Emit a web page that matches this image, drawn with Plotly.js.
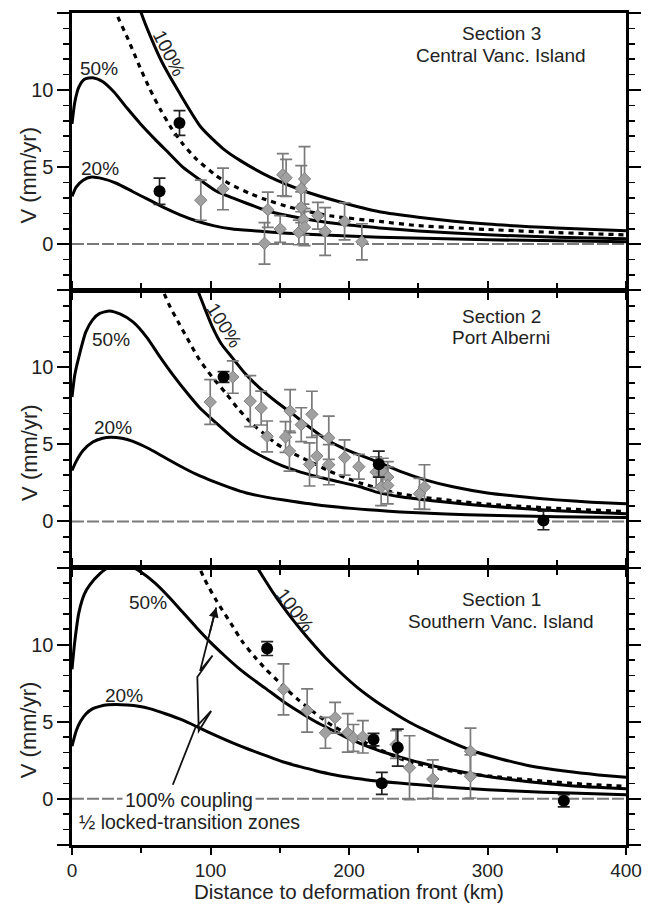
<!DOCTYPE html>
<html>
<head>
<meta charset="utf-8">
<script src="https://cdn.plot.ly/plotly-3.0.1.min.js"></script>
<style>html,body{margin:0;padding:0;background:#fff;}#chart{width:654px;height:904px;}</style>
</head>
<body>
<div id="chart"></div>
<script>
// ---------- Section 3 : Central Vanc. Island (top panel) ----------
const s3_c100_km = [46, 50, 57, 65, 77, 93, 109, 121, 143, 169, 193, 222, 250, 300, 350, 400];
const s3_c100_v  = [16.2, 15, 13.4, 11.8, 9.9, 7.6, 6.2, 5.45, 4.35, 3.4, 2.75, 2.1, 1.75, 1.3, 1.05, 0.87];
const s3_dash_km = [30, 32, 40, 48, 56, 64, 72, 80, 90, 104, 114, 128, 138, 157, 186, 222, 250, 300, 350, 400];
const s3_dash_v  = [16, 15, 13.4, 11.7, 10.1, 8.7, 7.5, 6.5, 5.5, 4.45, 3.9, 3.3, 2.95, 2.4, 1.84, 1.47, 1.2, 0.95, 0.75, 0.6];
const s3_c50_km  = [0, 2, 5, 9, 15, 22, 30, 40, 50, 60, 70, 80, 92, 104, 116, 126, 140, 150, 174, 198, 222, 250, 300, 350, 400];
const s3_c50_v   = [7.8, 9.2, 10.2, 10.7, 10.8, 10.55, 9.9, 8.8, 7.75, 6.8, 5.9, 5.0, 4.2, 3.45, 3.0, 2.65, 2.2, 1.95, 1.55, 1.25, 1.05, 0.85, 0.6, 0.45, 0.35];
const s3_c20_km  = [0, 3, 8, 14, 22, 32, 44, 56, 68, 78, 90, 102, 116, 138, 152, 174, 222, 300, 400];
const s3_c20_v   = [3.1, 3.7, 4.15, 4.35, 4.25, 3.95, 3.4, 2.85, 2.3, 1.9, 1.5, 1.2, 0.98, 0.82, 0.72, 0.62, 0.45, 0.28, 0.15];
const s3_gps_km  = [93, 109, 139, 141.4, 150.3, 152.2, 154.6, 163.8, 165.5, 165.5, 167.1, 167.9, 167.9, 177.5, 182.8, 196.8, 209.3];
const s3_gps_v   = [2.85, 3.58, 0.05, 2.23, 0.98, 4.5, 4.3, 0.76, 3.6, 2.39, 1.6, 1.1, 4.23, 1.84, 0.82, 1.47, 0.15];
const s3_gps_err = [1.3, 1.35, 1.35, 1.15, 0.87, 1.37, 1.2, 0.8, 1.5, 1.0, 1.0, 1.2, 2.1, 0.87, 1.55, 1.2, 1.17];
const s3_dot_km  = [63.2, 77.6];
const s3_dot_v   = [3.43, 7.86];
const s3_dot_err = [0.85, 0.8];

// ---------- Section 2 : Port Alberni (middle panel) ----------
const s2_c100_km = [87, 90.8, 96, 101, 108, 116, 125, 135, 147, 159, 171, 184, 197, 208, 221, 237, 255, 275, 300, 325, 350, 375, 400];
const s2_c100_v  = [16, 15, 13.8, 12.7, 11.5, 10.6, 9.6, 8.7, 7.8, 7.0, 6.15, 5.3, 4.7, 4.3, 3.85, 3.25, 2.7, 2.25, 1.85, 1.6, 1.4, 1.25, 1.15];
const s2_dash_km = [62, 65.6, 71, 77.6, 85, 92, 101, 111.3, 120, 130.5, 140, 147.4, 157, 164.3, 175, 185, 197, 208, 227, 237, 255, 275, 300, 330, 360, 400];
const s2_dash_v  = [16, 15, 13.9, 12.8, 11.6, 10.5, 9.4, 8.3, 7.3, 6.3, 5.6, 5.05, 4.55, 4.2, 3.75, 3.3, 2.85, 2.5, 2.0, 1.8, 1.55, 1.35, 1.12, 0.95, 0.8, 0.65];
const s2_c50_km  = [0, 2, 5, 10, 15, 20, 27, 35, 44, 54, 63, 73, 83, 92, 104, 116, 128, 140, 152, 165, 184, 208, 220, 237, 260, 300, 350, 400];
const s2_c50_v   = [8.07, 9.5, 10.7, 12.3, 13.1, 13.5, 13.66, 13.45, 12.95, 11.95, 10.75, 9.5, 8.35, 7.4, 6.4, 5.45, 4.7, 4.1, 3.6, 3.2, 2.75, 2.25, 1.9, 1.6, 1.35, 1.0, 0.7, 0.5];
const s2_c20_km  = [0, 3, 8, 15, 22, 28, 36, 44, 55, 65, 78, 90, 102, 114, 126, 140, 160, 184, 208, 220, 237, 270, 300, 350, 400];
const s2_c20_v   = [3.31, 3.9, 4.6, 5.15, 5.4, 5.47, 5.4, 5.2, 4.75, 4.25, 3.6, 3.05, 2.6, 2.2, 1.85, 1.58, 1.3, 1.0, 0.8, 0.72, 0.62, 0.48, 0.4, 0.3, 0.25];
const s2_gps_km  = [99.8, 116.1, 128.7, 136.6, 140.9, 154.2, 157.5, 157, 165.5, 173.2, 171.5, 176.8, 185.4, 185.4, 196.8, 207.1, 219.6, 224.4, 228, 223.2, 228, 254.5, 250.9];
const s2_gps_v   = [7.75, 9.37, 7.81, 7.36, 5.52, 5.48, 7.16, 4.57, 6.28, 6.95, 3.7, 4.24, 5.43, 3.68, 4.15, 3.55, 3.2, 3.2, 2.88, 2.23, 2.34, 2.23, 1.8];
const s2_gps_err = [1.45, 1.05, 1.65, 1.1, 1.0, 1.0, 1.4, 1.3, 1.1, 1.5, 1.4, 1.35, 1.4, 1.3, 1.15, 0.8, 1.0, 0.9, 1.0, 1.2, 1.2, 1.45, 1.0];
const s2_dot_km  = [109.4, 221.5, 340.4];
const s2_dot_v   = [9.38, 3.72, 0.06];
const s2_dot_err = [0.35, 0.85, 0.6];

// ---------- Section 1 : Southern Vanc. Island (bottom panel) ----------
const s1_c100_km = [131, 134, 140, 148, 157, 165, 172, 183, 195, 207, 219, 231, 243, 255, 268, 288, 309, 330, 357, 380, 400];
const s1_c100_v  = [16, 15, 14.1, 13.0, 11.9, 11.0, 10.25, 9.15, 8.1, 7.15, 6.35, 5.65, 5.0, 4.45, 3.9, 3.15, 2.6, 2.15, 1.78, 1.55, 1.39];
const s1_dash_km = [88, 92, 96, 104, 116, 123, 132, 140, 148, 155, 163, 172, 180, 188, 197, 205, 215, 227, 237, 255, 280, 309, 340, 370, 400];
const s1_dash_v  = [16, 15, 14.2, 12.9, 11.2, 10.2, 9.2, 8.4, 7.7, 7.1, 6.45, 5.8, 5.25, 4.75, 4.3, 3.95, 3.5, 3.0, 2.6, 2.15, 1.7, 1.4, 1.15, 0.95, 0.8];
const s1_c50_km  = [0, 2, 5, 9, 13, 20, 27, 35, 42, 50, 60, 70, 80, 90, 100, 110, 120, 130, 140, 152, 164, 176, 188, 200, 212, 224, 237, 251, 270, 300, 330, 360, 400];
const s1_c50_v   = [8.4, 10.2, 12.1, 13.3, 13.9, 14.6, 15.05, 15.2, 15.1, 14.7, 14.0, 13.1, 12.1, 11.1, 10.15, 9.3, 8.5, 7.8, 7.15, 6.35, 5.65, 5.0, 4.45, 3.9, 3.45, 3.05, 2.7, 2.35, 1.95, 1.45, 1.1, 0.85, 0.65];
const s1_c20_km  = [0, 3, 6, 10, 15, 20, 26, 32, 40, 48, 56, 68, 80, 92, 104, 116, 128, 140, 152, 164, 176, 188, 200, 212, 236, 251, 280, 320, 360, 400];
const s1_c20_v   = [3.41, 4.4, 5.0, 5.5, 5.85, 6.0, 6.1, 6.12, 6.08, 6.0, 5.85, 5.5, 5.1, 4.6, 4.1, 3.63, 3.2, 2.8, 2.4, 2.1, 1.82, 1.58, 1.4, 1.24, 1.02, 0.91, 0.7, 0.5, 0.37, 0.26];
const s1_gps_km  = [152.7, 169.8, 183, 190, 199.1, 203.2, 210, 234, 243.7, 260.5, 287.7, 287.7];
const s1_gps_v   = [7.1, 5.73, 4.28, 5.26, 4.28, 3.95, 4.02, 3.52, 2.02, 1.28, 3.08, 1.45];
const s1_gps_err = [1.65, 1.4, 1.0, 1.0, 1.25, 0.87, 1.05, 0.9, 2.07, 1.25, 1.5, 1.4];
const s1_dot_km  = [140.9, 217.7, 235.2, 223.7, 355.1];
const s1_dot_v   = [9.75, 3.84, 3.32, 1.0, -0.13];
const s1_dot_err = [0.45, 0.4, 1.2, 0.72, 0.4];

// axis ticks
const xTickVals = [0, 100, 200, 300, 400];
const xTickText = ['0', '100', '200', '300', '400'];
const yTickVals = [-3, 0, 5, 10, 15];
const yTickText = ['', '0', '5', '10', ''];

// arrow (annotation in bottom panel)
const arrowKm = [72.8, 89.0, 100.5, 91.5, 90.5, 101.5, 92.5, 104.1];
const arrowV  = [0.91, 4.6, 5.7, 4.4, 7.9, 9.3, 8.3, 12.42];

const FONT = 'Liberation Sans, Arial, Helvetica, sans-serif';
const TXT = '#222';

function curve(xs, ys, ax, dashed) {
  return {type: 'scatter', mode: 'lines', x: xs, y: ys, xaxis: 'x' + ax, yaxis: 'y' + ax,
    line: {color: '#000', width: dashed ? 3.2 : 3, dash: dashed ? '5px,5px' : 'solid', shape: 'spline', smoothing: 0.6},
    hoverinfo: 'skip', showlegend: false};
}
function diamonds(xs, ys, es, ax) {
  return {type: 'scatter', mode: 'markers', x: xs, y: ys, xaxis: 'x' + ax, yaxis: 'y' + ax,
    marker: {symbol: 'diamond', size: 9.5, color: '#a0a0a0', line: {color: '#808080', width: 1}},
    error_y: {type: 'data', array: es, visible: true, color: '#7a7a7a', thickness: 1.7, width: 6},
    hoverinfo: 'skip', showlegend: false};
}
function dots(xs, ys, es, ax) {
  return {type: 'scatter', mode: 'markers', x: xs, y: ys, xaxis: 'x' + ax, yaxis: 'y' + ax,
    marker: {symbol: 'circle', size: 12, color: '#000'},
    error_y: {type: 'data', array: es, visible: true, color: '#222', thickness: 1.7, width: 6},
    hoverinfo: 'skip', showlegend: false};
}

const traces = [
  curve(s3_c100_km, s3_c100_v, '', false), curve(s3_c50_km, s3_c50_v, '', false),
  curve(s3_c20_km, s3_c20_v, '', false), curve(s3_dash_km, s3_dash_v, '', true),
  diamonds(s3_gps_km, s3_gps_v, s3_gps_err, ''), dots(s3_dot_km, s3_dot_v, s3_dot_err, ''),
  curve(s2_c100_km, s2_c100_v, '2', false), curve(s2_c50_km, s2_c50_v, '2', false),
  curve(s2_c20_km, s2_c20_v, '2', false), curve(s2_dash_km, s2_dash_v, '2', true),
  diamonds(s2_gps_km, s2_gps_v, s2_gps_err, '2'), dots(s2_dot_km, s2_dot_v, s2_dot_err, '2'),
  curve(s1_c100_km, s1_c100_v, '3', false), curve(s1_c50_km, s1_c50_v, '3', false),
  curve(s1_c20_km, s1_c20_v, '3', false), curve(s1_dash_km, s1_dash_v, '3', true),
  diamonds(s1_gps_km, s1_gps_v, s1_gps_err, '3'), dots(s1_dot_km, s1_dot_v, s1_dot_err, '3')
];

function xaxis(anchor, mirror, labels) {
  return {domain: [0, 1], range: [0, 400], anchor: anchor, tickmode: 'array', tickvals: xTickVals, ticktext: xTickText,
    showticklabels: labels, ticks: 'outside', ticklen: 7, tickwidth: 2, tickcolor: '#000',
    minor: {tickmode: 'linear', tick0: 0, dtick: 50, ticks: 'outside', ticklen: 5, tickwidth: 1.6, tickcolor: '#000'},
    showline: true, linewidth: 2.6, linecolor: '#000', mirror: mirror, showgrid: false, zeroline: false,
    tickfont: {family: FONT, size: 19, color: TXT}, fixedrange: true};
}
function yaxis(anchor, domain) {
  return {domain: domain, range: [-3, 15], anchor: anchor, tickmode: 'array', tickvals: yTickVals, ticktext: yTickText,
    ticks: 'outside', ticklen: 12, tickwidth: 2, tickcolor: '#000',
    minor: {tickmode: 'linear', tick0: 0, dtick: 1, ticks: 'outside', ticklen: 6, tickwidth: 1.6, tickcolor: '#000'},
    showline: true, linewidth: 2.6, linecolor: '#000', mirror: 'ticks', showgrid: false, zeroline: false,
    tickfont: {family: FONT, size: 20, color: TXT}, fixedrange: true};
}

function lbl(text, x, y, ax, size, angle) {
  return {text: text, x: x, y: y, xref: 'x' + ax, yref: 'y' + ax, showarrow: false,
    textangle: angle || 0, font: {family: FONT, size: size, color: TXT}, xanchor: 'center', yanchor: 'middle'};
}

const annotations = [
  lbl('Section 3', 310, 13.7, '', 19), lbl('Central Vanc. Island', 310, 12.27, '', 19),
  lbl('Section 2', 310, 13.27, '2', 19), lbl('Port Alberni', 310, 11.93, '2', 19),
  lbl('Section 1', 310, 12.92, '3', 19), lbl('Southern Vanc. Island', 310, 11.51, '3', 19),
  lbl('50%', 19.4, 11.39, '', 19), lbl('20%', 20.3, 4.88, '', 19), lbl('100%', 70.4, 12.4, '', 19, 63),
  lbl('50%', 28.3, 11.8, '2', 19), lbl('20%', 29.5, 6.08, '2', 19), lbl('100%', 110, 12.73, '2', 19, 58),
  lbl('50%', 54.7, 12.75, '3', 19), lbl('20%', 37.9, 6.7, '3', 19), lbl('100%', 161.4, 12.25, '3', 19, 53),
  Object.assign(lbl('100% coupling', 84.8, -0.07, '3', 19.5), {bgcolor: '#fff', borderpad: 2}),
  lbl('½ locked-transition zones', 84.8, -1.5, '3', 19.5),
  {text: '', x: arrowKm[7], y: arrowV[7], ax: 99.3, ay: 10.73, xref: 'x3', yref: 'y3', axref: 'x3', ayref: 'y3',
   showarrow: true, arrowhead: 2, arrowsize: 1.1, arrowwidth: 1.8, arrowcolor: '#111'},
  {text: 'V (mm/yr)', x: -0.078, xref: 'paper', y: 4.5, yref: 'y', textangle: -90, showarrow: false,
   font: {family: FONT, size: 22, color: TXT}, xanchor: 'center', yanchor: 'middle'},
  {text: 'V (mm/yr)', x: -0.078, xref: 'paper', y: 4.5, yref: 'y2', textangle: -90, showarrow: false,
   font: {family: FONT, size: 22, color: TXT}, xanchor: 'center', yanchor: 'middle'},
  {text: 'V (mm/yr)', x: -0.078, xref: 'paper', y: 4.5, yref: 'y3', textangle: -90, showarrow: false,
   font: {family: FONT, size: 22, color: TXT}, xanchor: 'center', yanchor: 'middle'},
  {text: 'Distance to deformation front (km)', x: 0.5, xref: 'paper', y: -0.0555, yref: 'paper', showarrow: false,
   font: {family: FONT, size: 20.5, color: TXT}, xanchor: 'center', yanchor: 'middle'}
];

let arrowPath = 'M' + arrowKm[0] + ',' + arrowV[0];
for (let i = 1; i < arrowKm.length; i++) arrowPath += ' L' + arrowKm[i] + ',' + arrowV[i];

const zeroStyle = {color: '#7a7a7a', width: 2, dash: '12px,3px'};
const shapes = [
  {type: 'line', xref: 'x', yref: 'y', x0: 0, x1: 400, y0: 0, y1: 0, line: zeroStyle, layer: 'below'},
  {type: 'line', xref: 'x2', yref: 'y2', x0: 0, x1: 400, y0: 0, y1: 0, line: zeroStyle, layer: 'below'},
  {type: 'line', xref: 'x3', yref: 'y3', x0: 0, x1: 400, y0: 0, y1: 0, line: zeroStyle, layer: 'below'},
  {type: 'path', xref: 'x3', yref: 'y3', path: arrowPath, line: {color: '#111', width: 1.8}}
];

const layout = {
  width: 654, height: 904, margin: {l: 72, r: 28, t: 13, b: 59},
  paper_bgcolor: '#fff', plot_bgcolor: '#fff', showlegend: false,
  font: {family: FONT, color: TXT},
  xaxis: xaxis('y', true, false),
  xaxis2: xaxis('y2', 'ticks', false),
  xaxis3: xaxis('y3', 'ticks', true),
  yaxis: yaxis('x', [2 / 3, 1]),
  yaxis2: yaxis('x2', [1 / 3, 2 / 3]),
  yaxis3: yaxis('x3', [0, 1 / 3]),
  annotations: annotations,
  shapes: shapes
};

Plotly.newPlot('chart', traces, layout, {staticPlot: true, displayModeBar: false});
</script>
</body>
</html>
